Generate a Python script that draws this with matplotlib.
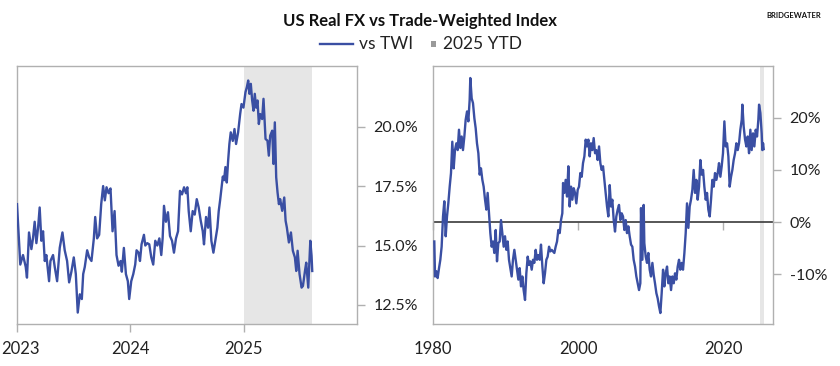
import matplotlib
matplotlib.use("Agg")
import matplotlib.pyplot as plt
from matplotlib.lines import Line2D
from matplotlib.patches import Rectangle
from matplotlib.ticker import FuncFormatter
from matplotlib.transforms import ScaledTranslation

plt.rcParams['font.family'] = ['Lato', 'DejaVu Sans']

# ---------------- data ----------------
left_years = [
    2023.000, 2023.029, 2023.053, 2023.077, 2023.088, 2023.106, 2023.127, 2023.141, 2023.156, 2023.171,
    2023.186, 2023.200, 2023.215, 2023.230, 2023.245, 2023.259, 2023.283, 2023.295, 2023.318, 2023.333,
    2023.354, 2023.377, 2023.401, 2023.421, 2023.442, 2023.460, 2023.480, 2023.501, 2023.519, 2023.536,
    2023.554, 2023.572, 2023.584, 2023.598, 2023.619, 2023.637, 2023.657, 2023.678, 2023.690, 2023.707,
    2023.725, 2023.743, 2023.760, 2023.775, 2023.790, 2023.808, 2023.825, 2023.843, 2023.861, 2023.878,
    2023.896, 2023.914, 2023.925, 2023.943, 2023.961, 2023.978, 2023.990,
    2024.008, 2024.026, 2024.043, 2024.055, 2024.073, 2024.085, 2024.099, 2024.120, 2024.132, 2024.149,
    2024.167, 2024.185, 2024.202, 2024.220, 2024.238, 2024.256, 2024.273, 2024.285, 2024.297, 2024.314,
    2024.332, 2024.350, 2024.368, 2024.385, 2024.403, 2024.421, 2024.438, 2024.456, 2024.474, 2024.491,
    2024.503, 2024.515, 2024.533, 2024.550, 2024.568, 2024.586, 2024.603, 2024.621, 2024.639, 2024.650,
    2024.668, 2024.686, 2024.698, 2024.715, 2024.733, 2024.751, 2024.768, 2024.780, 2024.792, 2024.804,
    2024.816, 2024.827, 2024.839, 2024.851, 2024.863, 2024.874, 2024.886, 2024.904, 2024.919, 2024.933,
    2024.951, 2024.969, 2024.981, 2024.998,
    2025.016, 2025.028, 2025.040, 2025.051, 2025.063, 2025.075, 2025.087, 2025.098, 2025.110, 2025.122,
    2025.134, 2025.146, 2025.163, 2025.175, 2025.193, 2025.210, 2025.222, 2025.234, 2025.252, 2025.263,
    2025.275, 2025.287, 2025.299, 2025.311, 2025.322, 2025.340, 2025.358, 2025.370, 2025.381, 2025.399,
    2025.417, 2025.434, 2025.452, 2025.464, 2025.476, 2025.493, 2025.511, 2025.523, 2025.541, 2025.552,
    2025.570, 2025.588, 2025.599, 2025.605,
]
left_values = [
    16.74, 14.2, 14.6, 14.1, 13.65, 15.55, 14.85, 15.3, 16.0, 15.1,
    15.75, 16.6, 15.2, 15.6, 14.35, 14.6, 13.5, 14.35, 14.6, 14.1,
    13.5, 14.9, 15.55, 14.8, 14.35, 13.45, 13.9, 14.5, 13.8, 12.18,
    12.95, 12.75, 13.8, 14.1, 14.8, 14.5, 14.35, 15.3, 16.2, 15.3,
    15.45, 16.74, 17.5, 16.9, 17.45, 17.2, 17.4, 15.6, 16.45, 14.6,
    14.15, 14.35, 13.9, 14.9, 13.8, 13.5, 12.75,
    13.5, 13.8, 14.2, 14.8, 14.7, 14.35, 15.05, 15.45, 15.0, 15.1,
    15.05, 14.5, 14.2, 15.2, 15.0, 15.3, 14.6, 15.3, 16.67, 16.0,
    16.4, 15.4, 15.2, 14.7, 15.3, 15.6, 17.3, 17.15, 17.45, 17.2,
    17.45, 16.45, 15.6, 16.45, 16.3, 16.95, 16.6, 16.05, 15.6, 15.05,
    16.2, 15.75, 16.6, 15.2, 14.7, 15.25, 15.75, 16.45, 16.9, 17.4,
    17.9, 17.75, 18.3, 17.65, 18.57, 19.27, 19.76, 19.4, 19.9, 19.27,
    19.76, 20.53, 20.95, 20.8,
    21.45, 21.66, 21.94, 21.38, 21.8, 21.1, 20.67, 21.38, 20.8, 21.1,
    20.11, 20.53, 20.32, 21.17, 19.48, 19.41, 18.78, 19.62, 19.83, 18.43,
    20.18, 17.87, 17.23, 16.74, 16.95, 16.46, 17.02, 16.04, 15.76, 15.13,
    15.55, 14.78, 14.5, 13.93, 14.78, 13.8, 13.23, 13.3, 13.93, 14.28,
    13.23, 15.2, 14.57, 13.93,
]

right_years = [
    1980.18, 1980.28, 1980.46, 1980.64, 1980.83, 1981.01, 1981.19, 1981.38, 1981.56, 1981.75,
    1981.93, 1982.11, 1982.30, 1982.48, 1982.66, 1982.85, 1983.03, 1983.22, 1983.40, 1983.58,
    1983.77, 1983.95, 1984.13, 1984.32, 1984.50, 1984.69, 1984.87, 1985.05, 1985.14, 1985.33,
    1985.51, 1985.70, 1985.88, 1986.06, 1986.25, 1986.43, 1986.61, 1986.80, 1986.98, 1987.17,
    1987.35, 1987.53, 1987.72, 1987.90, 1988.08, 1988.27, 1988.45, 1988.64, 1988.82, 1989.00,
    1989.19, 1989.37, 1989.55, 1989.74, 1989.92, 1990.11, 1990.29, 1990.47, 1990.66, 1990.84,
    1991.02, 1991.21, 1991.39, 1991.58, 1991.76, 1991.94, 1992.13, 1992.31, 1992.49, 1992.68,
    1992.86, 1993.05, 1993.23, 1993.41, 1993.60, 1993.78, 1993.96, 1994.15, 1994.33, 1994.52,
    1994.70, 1994.88, 1995.07, 1995.25, 1995.43, 1995.62, 1995.80, 1995.99, 1996.17, 1996.35,
    1996.54, 1996.72, 1996.90, 1997.09, 1997.27, 1997.46, 1997.64, 1997.82, 1997.92, 1998.10,
    1998.28, 1998.47, 1998.65, 1998.83, 1999.02, 1999.20, 1999.39, 1999.57, 1999.75, 1999.94,
    2000.12, 2000.30, 2000.49, 2000.67, 2000.86, 2001.04, 2001.22, 2001.41, 2001.59, 2001.77,
    2001.96, 2002.14, 2002.33, 2002.51, 2002.69, 2002.88, 2003.06, 2003.24, 2003.43, 2003.61,
    2003.79, 2003.98, 2004.16, 2004.35, 2004.53, 2004.71, 2004.90, 2005.08, 2005.26, 2005.45,
    2005.63, 2005.82, 2006.00, 2006.18, 2006.37, 2006.55, 2006.73, 2006.92, 2007.10, 2007.29,
    2007.47, 2007.65, 2007.84, 2008.02, 2008.20, 2008.39, 2008.57, 2008.66, 2008.85, 2009.03,
    2009.12, 2009.31, 2009.49, 2009.67, 2009.86, 2010.04, 2010.23, 2010.41, 2010.59, 2010.78,
    2010.96, 2011.14, 2011.33, 2011.51, 2011.70, 2011.88, 2012.06, 2012.25, 2012.43, 2012.61,
    2012.80, 2012.98, 2013.17, 2013.35, 2013.53, 2013.72, 2013.90, 2014.08, 2014.27, 2014.45,
    2014.64, 2014.82, 2015.00, 2015.19, 2015.37, 2015.55, 2015.74, 2015.92, 2016.11, 2016.29,
    2016.47, 2016.66, 2016.84, 2017.02, 2017.21, 2017.39, 2017.58, 2017.76, 2017.94, 2018.13,
    2018.31, 2018.49, 2018.68, 2018.86, 2019.05, 2019.23, 2019.41, 2019.60, 2019.78, 2019.96,
    2020.15, 2020.33, 2020.52, 2020.70, 2020.88, 2021.07, 2021.25, 2021.43, 2021.62, 2021.80,
    2021.99, 2022.17, 2022.35, 2022.54, 2022.63, 2022.81, 2023.00, 2023.18, 2023.36, 2023.55,
    2023.73, 2023.91, 2024.10, 2024.28, 2024.47, 2024.65, 2024.83, 2024.93, 2025.11, 2025.29,
    2025.38, 2025.48, 2025.57,
]
right_values = [
    -3.7, -10.4, -9.4, -10.7, -8.8, -7.2, -4.7, 1.1, 4.0, -2.7,
    1.1, 3.6, 6.8, 9.4, 15.4, 10.3, 13.8, 15.1, 13.8, 17.7,
    14.2, 16.4, 13.8, 16.4, 19.6, 21.2, 19.3, 23.4, 27.6, 23.7,
    22.8, 19.9, 18.0, 15.1, 13.2, 9.1, 10.3, 8.1, 6.8, 4.3,
    2.4, 5.6, 1.7, -2.1, -4.7, -3.7, -5.9, -1.5, -7.5, -4.0,
    -3.7, 0.4, -2.1, -4.7, -2.7, -5.3, -3.7, -7.2, -8.8, -10.4,
    -7.2, -5.3, -7.2, -9.1, -11.0, -8.8, -12.3, -10.4, -13.0, -14.9,
    -9.8, -6.6, -8.2, -7.5, -9.1, -7.2, -7.8, -5.3, -7.2, -6.3,
    -7.2, -4.3, -8.5, -11.7, -9.8, -7.2, -6.6, -4.7, -5.6, -5.3,
    -5.6, -5.9, -4.7, -3.7, -1.5, -2.1, 0.4, 1.7, 7.5, 5.6,
    8.1, 4.9, 10.7, 3.0, 6.8, 4.3, 6.5, 5.6, 3.6, 6.2,
    6.8, 9.4, 8.7, 11.3, 12.6, 15.8, 14.5, 15.8, 12.6, 15.1,
    13.8, 16.1, 13.2, 13.8, 11.9, 14.5, 11.3, 10.0, 10.7, 8.1,
    5.6, 3.0, 1.1, 7.1, 3.0, 4.3, 0.4, -1.8, 1.1, 2.4,
    3.3, 0.4, 1.7, 1.1, -1.5, 0.4, -2.1, -0.8, -2.7, -4.3,
    -4.7, -7.2, -8.5, -10.4, -11.7, -13.0, -11.7, 2.7, -7.2, 3.3,
    -4.0, -6.6, -7.8, -5.9, -9.1, -10.4, -7.8, -10.1, -11.7, -13.6,
    -14.6, -16.1, -17.4, -13.6, -9.1, -12.3, -9.8, -8.5, -11.7, -10.4,
    -13.0, -10.4, -11.7, -9.8, -11.0, -8.5, -7.2, -9.1, -7.8, -9.1,
    -5.9, -2.1, 3.6, -1.1, 3.0, 4.3, 6.2, 10.0, 5.6, 8.1,
    4.3, 6.8, 11.9, 9.1, 10.0, 6.8, 4.3, 5.6, 2.4, 1.1,
    4.3, 8.1, 6.8, 9.4, 8.1, 9.4, 11.3, 8.7, 10.7, 13.2,
    19.3, 14.5, 15.1, 12.6, 6.8, 8.7, 10.0, 11.9, 13.2, 15.1,
    13.8, 15.1, 17.7, 19.6, 22.5, 18.3, 15.8, 14.5, 16.4, 13.2,
    17.7, 13.8, 17.0, 14.5, 17.7, 16.4, 19.6, 22.5, 20.9, 17.0,
    13.8, 15.1, 14.0,
]

ytd_span = [2025.0, 2025.6]
left_xticks = [2023, 2024, 2025]
left_yticks = [12.5, 15.0, 17.5, 20.0]
right_xticks = [1980, 2000, 2020]
right_yticks = [-10, 0, 10, 20]

title = "US Real FX vs Trade-Weighted Index"
series_label = "vs TWI"
shade_label = "2025 YTD"
brand = "BRIDGEWATER"

# ---------------- style ----------------
LINE = '#3a4fa3'
SHADE = '#e6e6e6'
SPINE = '#b0b0b0'
TEXT = '#222222'
FS = 11.5

W, H = 840, 366
fig = plt.figure(figsize=(W / 100, H / 100), dpi=100)
axL = fig.add_axes([17 / W, 42 / H, 340 / W, 258 / H])
axR = fig.add_axes([433 / W, 42 / H, 340 / W, 258 / H])

for ax in (axL, axR):
    for s in ax.spines.values():
        s.set_color(SPINE)
        s.set_linewidth(1.0)
    ax.yaxis.tick_right()
    ax.tick_params(axis='y', which='both', right=True, left=False, length=6,
                   width=1.0, color=SPINE, pad=6, labelsize=FS, labelcolor=TEXT)
    ax.axvspan(ytd_span[0], ytd_span[1], color=SHADE, lw=0, zorder=0)

# Left panel
axL.plot(left_years, left_values, color=LINE, lw=1.7, zorder=3)
axL.set_xlim(2023, 2026)
axL.set_ylim(11.7, 22.55)
axL.set_xticks(left_xticks)
axL.set_xticklabels([str(v) for v in left_xticks])
axL.set_yticks(left_yticks)
axL.yaxis.set_major_formatter(FuncFormatter(lambda v, p: f"{v:.1f}%"))
axL.tick_params(axis='x', length=6, width=1.0, color=SPINE, pad=6,
                labelsize=12, labelcolor=TEXT)
first = axL.get_xticklabels()[0]
first.set_horizontalalignment('left')
first.set_transform(first.get_transform() + ScaledTranslation(-16 / 100, 0, fig.dpi_scale_trans))

# Right panel
axR.plot(right_years, right_values, color=LINE, lw=1.7, zorder=3)
axR.axhline(0, color='#3a3a3a', lw=1.2, zorder=2)
axR.set_xlim(1980, 2026.85)
ylo, yhi = -19.5, 29.9
axR.set_ylim(ylo, yhi)
axR.set_xticks(right_xticks)
axR.set_xticklabels([str(v) for v in right_xticks])
axR.set_yticks(right_yticks)
axR.yaxis.set_major_formatter(FuncFormatter(lambda v, p: f"{v:.0f}%"))
axR.tick_params(axis='x', length=0, pad=12, labelsize=12, labelcolor=TEXT)
sec = axR.secondary_xaxis((0 - ylo) / (yhi - ylo))
sec.set_xticks(right_xticks)
sec.tick_params(axis='x', length=6, width=1.0, color=SPINE, labelbottom=False)
sec.spines['bottom'].set_visible(False)

# Title
fig.text(0.5, 1 - 21 / H, title, ha='center', va='center', fontsize=12,
         fontweight='bold', color='#111111')

# Legend (drawn in figure pixels)
ly = 1 - 44 / H
fig.add_artist(Line2D([320 / W, 353 / W], [ly, ly], color=LINE, lw=1.7,
                      transform=fig.transFigure))
fig.text(359 / W, ly, series_label, ha='left', va='center', fontsize=12.5,
         color=TEXT)
fig.add_artist(Rectangle((431 / W, ly - 2.5 / H), 5 / W, 5 / H, color='#9a9a9a',
                         lw=0, transform=fig.transFigure))
fig.text(443 / W, ly, shade_label, ha='left', va='center', fontsize=12.5,
         color=TEXT)

fig.text(821 / W, 1 - 16 / H, brand, ha='right', va='center', fontsize=5.5,
         fontweight='bold', color='#111111')

fig.savefig('out.png', dpi=100)
